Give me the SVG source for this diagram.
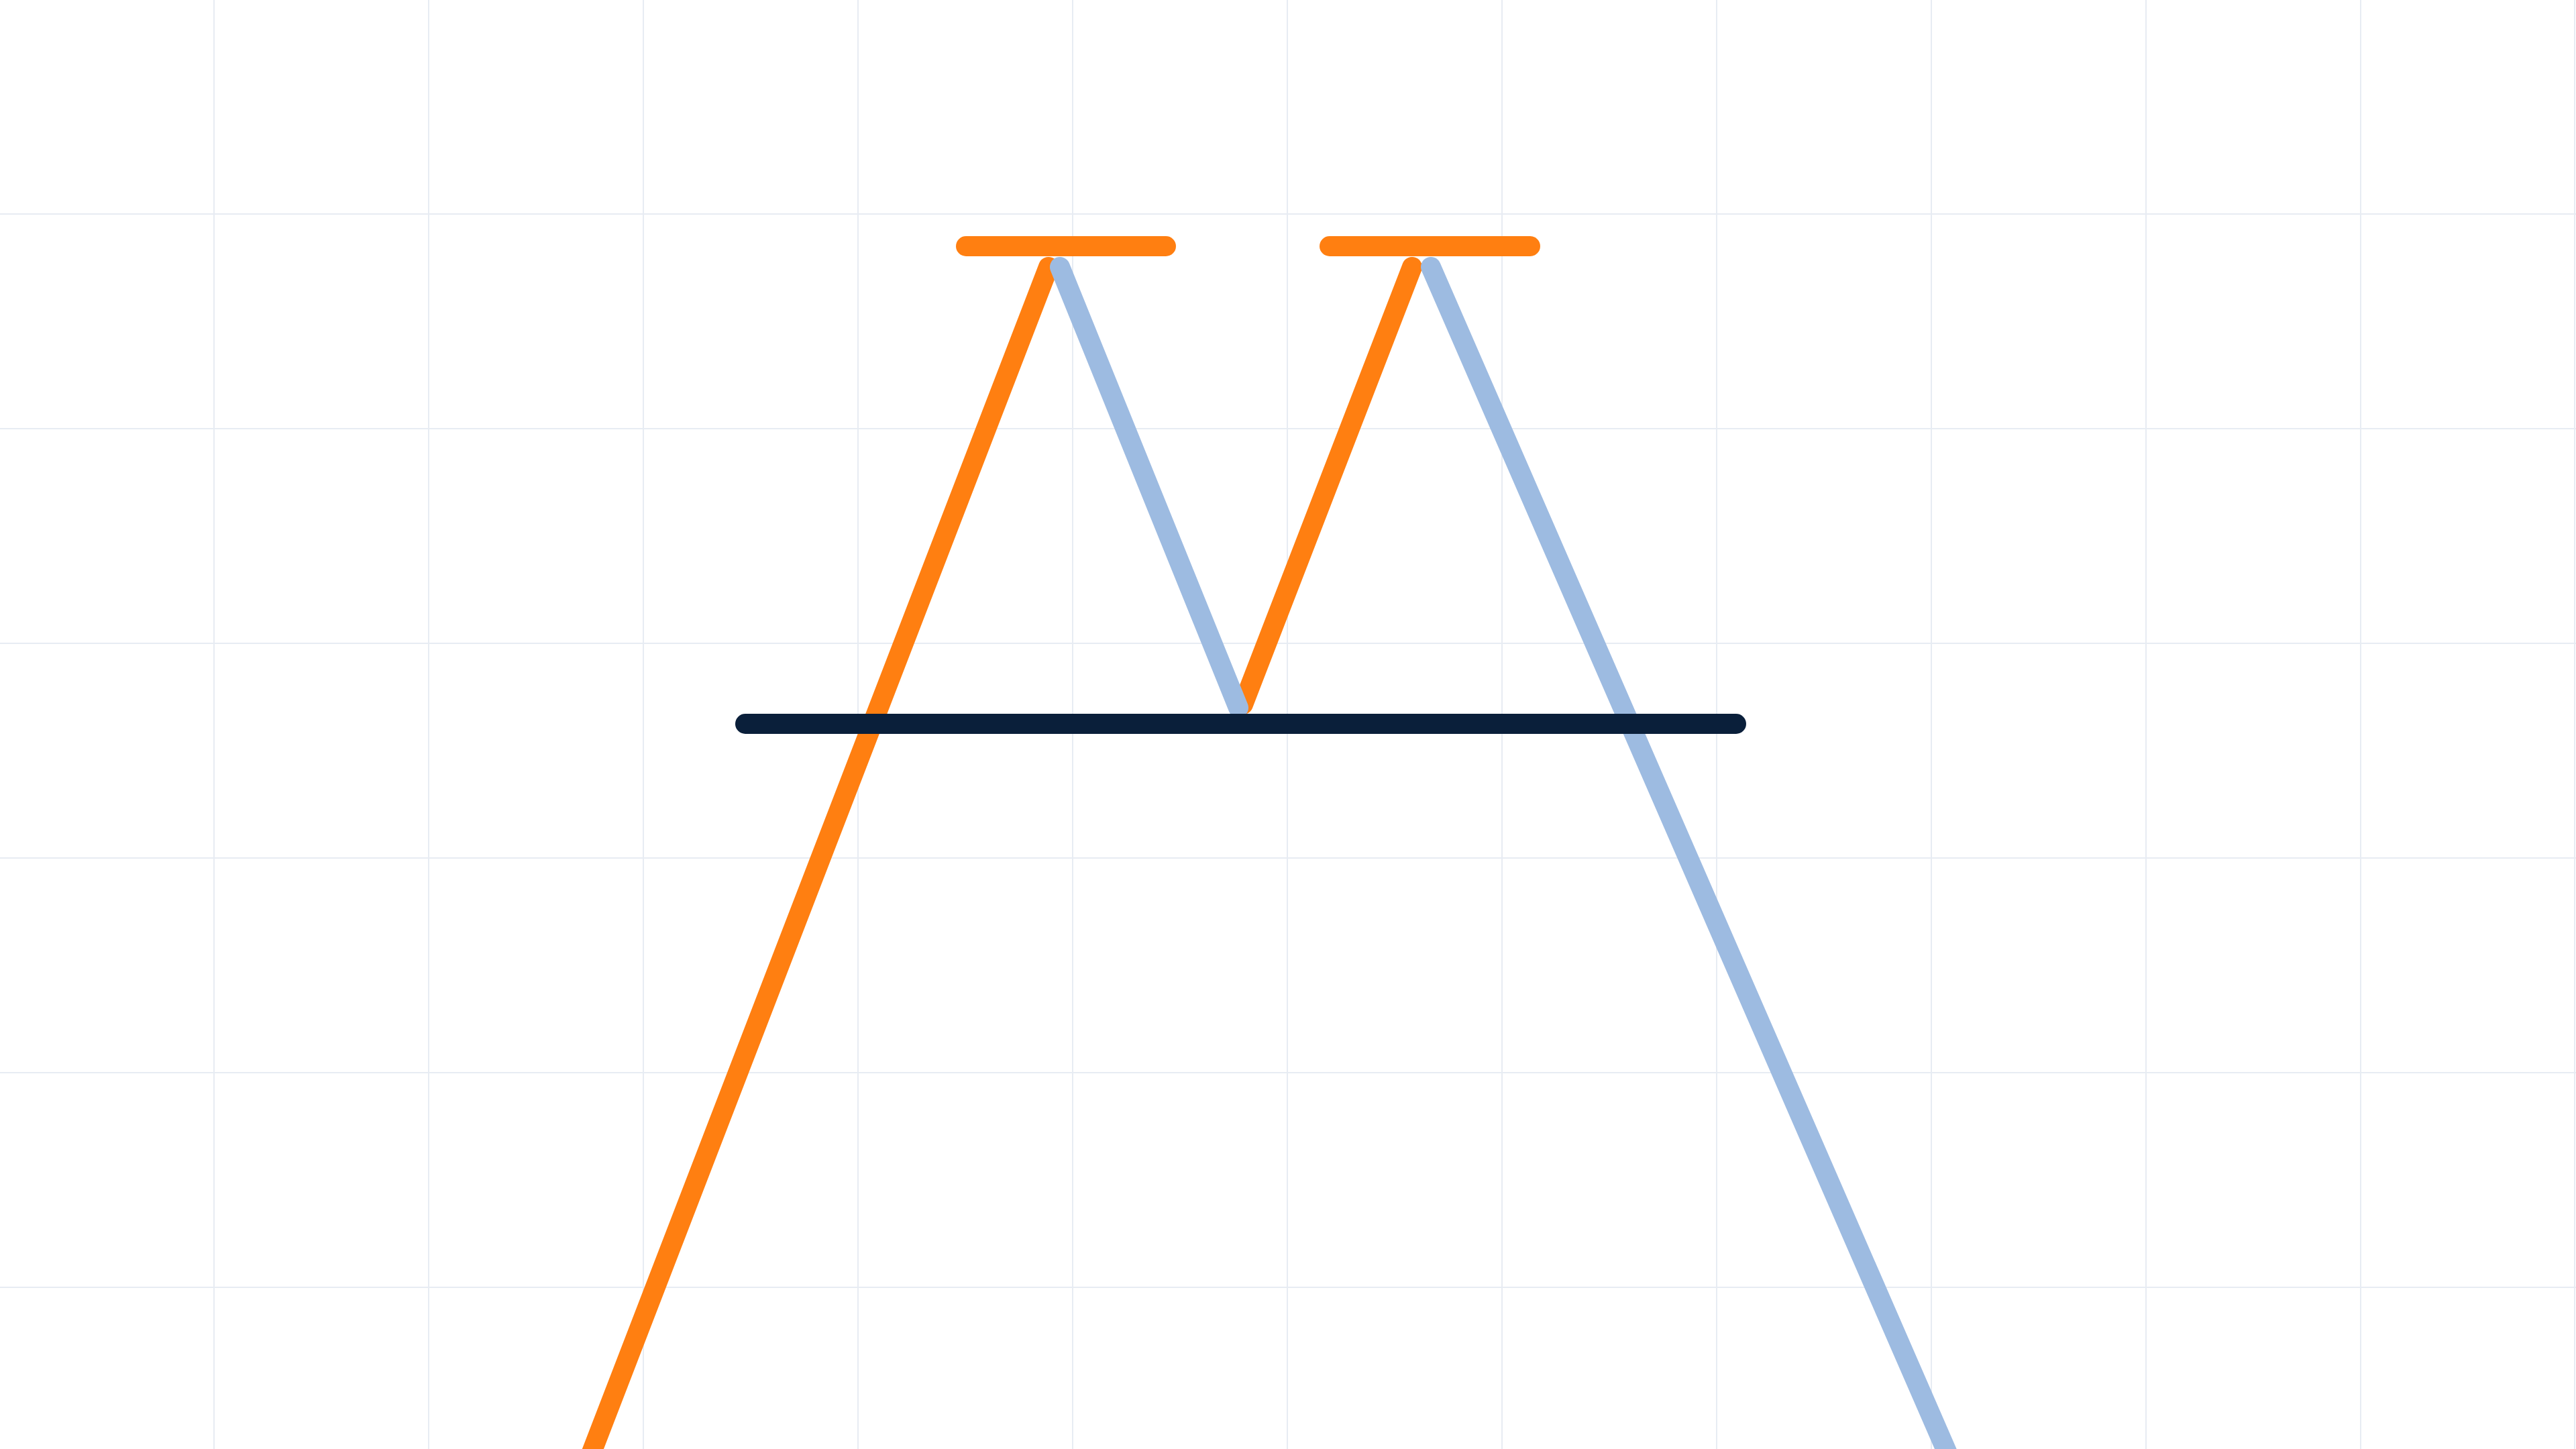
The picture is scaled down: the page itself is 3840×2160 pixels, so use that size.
<svg xmlns="http://www.w3.org/2000/svg" width="3840" height="2160" viewBox="0 0 3840 2160">
<style>
.grid line{stroke:#e7ecf3;stroke-width:2}
.s{fill:none;stroke-width:30;stroke-linecap:round}
.o{stroke:#ff7f11}
.b{stroke:#9dbbe1}
.n{stroke:#0a1f3a}
</style>
<rect width="3840" height="2160" fill="#ffffff"/>
<g id="grid" class="grid">
<line x1="319" y1="0" x2="319" y2="2160"/>
<line x1="639" y1="0" x2="639" y2="2160"/>
<line x1="959" y1="0" x2="959" y2="2160"/>
<line x1="1279" y1="0" x2="1279" y2="2160"/>
<line x1="1599" y1="0" x2="1599" y2="2160"/>
<line x1="1919" y1="0" x2="1919" y2="2160"/>
<line x1="2239" y1="0" x2="2239" y2="2160"/>
<line x1="2559" y1="0" x2="2559" y2="2160"/>
<line x1="2879" y1="0" x2="2879" y2="2160"/>
<line x1="3199" y1="0" x2="3199" y2="2160"/>
<line x1="3519" y1="0" x2="3519" y2="2160"/>
<line x1="3838" y1="0" x2="3838" y2="2160"/>
<line x1="0" y1="319" x2="3840" y2="319"/>
<line x1="0" y1="639" x2="3840" y2="639"/>
<line x1="0" y1="959" x2="3840" y2="959"/>
<line x1="0" y1="1279" x2="3840" y2="1279"/>
<line x1="0" y1="1599" x2="3840" y2="1599"/>
<line x1="0" y1="1919" x2="3840" y2="1919"/>
</g>
<g id="connectors">
<line class="s o" x1="1563" y1="398" x2="870" y2="2196"/>
<line class="s o" x1="2105" y1="398" x2="1853" y2="1050"/>
<line class="s b" x1="1580" y1="398" x2="1846" y2="1055"/>
<line class="s b" x1="2133" y1="398" x2="2916" y2="2196"/>
</g>
<g id="bar-left"><line class="s o" x1="1440" y1="367" x2="1738" y2="367"/></g>
<g id="bar-right"><line class="s o" x1="1982" y1="367" x2="2281" y2="367"/></g>
<g id="bar-base"><line class="s n" x1="1111" y1="1079" x2="2588" y2="1079"/></g>
</svg>
